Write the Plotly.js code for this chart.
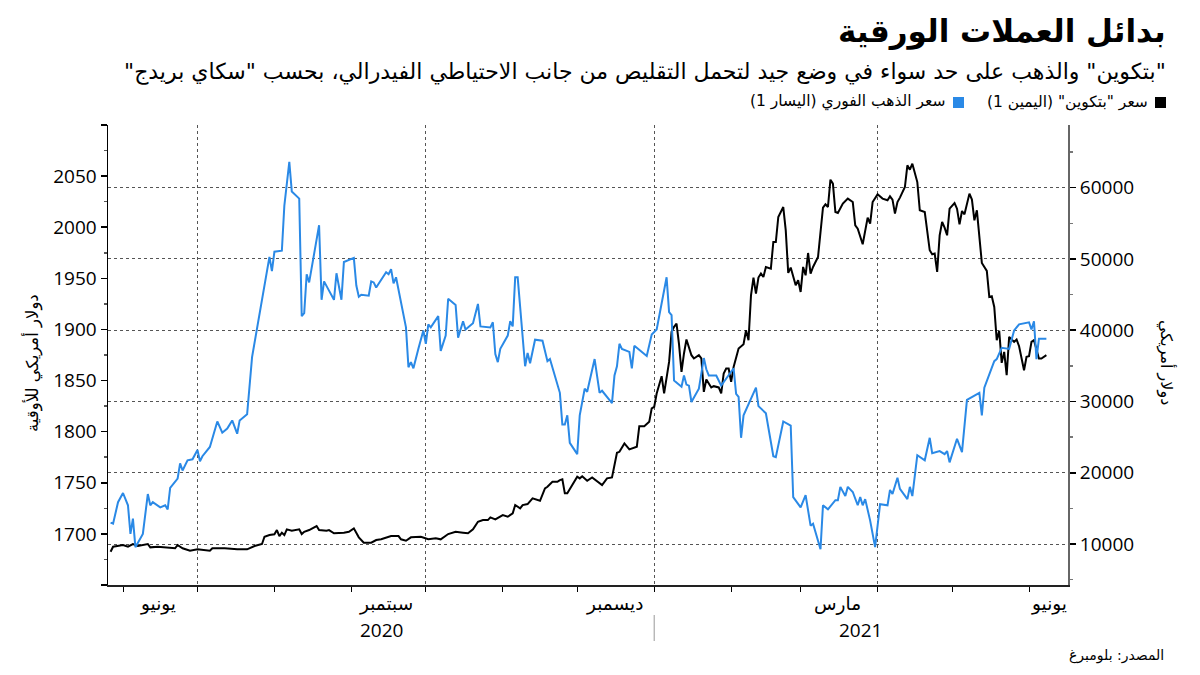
<!DOCTYPE html>
<html>
<head>
<meta charset="utf-8">
<script src="https://cdn.plot.ly/plotly-3.0.1.min.js"></script>
<style>
  html, body { margin: 0; padding: 0; background: #fff; }
  #chart { width: 1200px; height: 675px; }
</style>
</head>
<body>
<div id="chart"></div>
<script>
// ---------------- data ----------------
const seriesNames = ['سعر "بتكوين" (اليمين 1)', 'سعر الذهب الفوري (اليسار 1)'];

const goldDates = ['2020-05-27','2020-05-28','2020-05-30','2020-06-01','2020-06-03','2020-06-04','2020-06-05','2020-06-06','2020-06-09','2020-06-10','2020-06-11','2020-06-12','2020-06-13','2020-06-16','2020-06-18','2020-06-19','2020-06-20','2020-06-23','2020-06-24','2020-06-25','2020-06-27','2020-06-29','2020-07-01','2020-07-02','2020-07-03','2020-07-06','2020-07-09','2020-07-11','2020-07-13','2020-07-15','2020-07-17','2020-07-18','2020-07-21','2020-07-23','2020-07-25','2020-07-27','2020-07-30','2020-07-31','2020-08-01','2020-08-04','2020-08-05','2020-08-07','2020-08-08','2020-08-11','2020-08-12','2020-08-13','2020-08-14','2020-08-15','2020-08-19','2020-08-20','2020-08-21','2020-08-23','2020-08-25','2020-08-26','2020-08-28','2020-08-29','2020-08-31','2020-09-02','2020-09-03','2020-09-04','2020-09-05','2020-09-08','2020-09-09','2020-09-10','2020-09-11','2020-09-15','2020-09-16','2020-09-17','2020-09-18','2020-09-19','2020-09-23','2020-09-24','2020-09-25','2020-09-26','2020-09-28','2020-09-30','2020-10-01','2020-10-02','2020-10-03','2020-10-06','2020-10-07','2020-10-09','2020-10-10','2020-10-13','2020-10-14','2020-10-16','2020-10-17','2020-10-20','2020-10-22','2020-10-23','2020-10-27','2020-10-28','2020-10-29','2020-10-30','2020-10-31','2020-11-03','2020-11-04','2020-11-05','2020-11-06','2020-11-07','2020-11-10','2020-11-11','2020-11-12','2020-11-14','2020-11-17','2020-11-19','2020-11-20','2020-11-24','2020-11-25','2020-11-26','2020-11-27','2020-11-28','2020-12-01','2020-12-02','2020-12-04','2020-12-05','2020-12-08','2020-12-10','2020-12-11','2020-12-15','2020-12-16','2020-12-17','2020-12-18','2020-12-19','2020-12-22','2020-12-23','2020-12-24','2020-12-29','2020-12-31','2021-01-02','2021-01-06','2021-01-07','2021-01-08','2021-01-09','2021-01-12','2021-01-13','2021-01-14','2021-01-15','2021-01-16','2021-01-19','2021-01-21','2021-01-22','2021-01-23','2021-01-26','2021-01-28','2021-01-30','2021-02-02','2021-02-03','2021-02-04','2021-02-05','2021-02-06','2021-02-11','2021-02-12','2021-02-15','2021-02-18','2021-02-19','2021-02-22','2021-02-25','2021-02-26','2021-03-01','2021-03-03','2021-03-05','2021-03-06','2021-03-09','2021-03-10','2021-03-12','2021-03-15','2021-03-16','2021-03-17','2021-03-19','2021-03-20','2021-03-22','2021-03-24','2021-03-25','2021-03-26','2021-03-27','2021-03-29','2021-03-31','2021-04-02','2021-04-05','2021-04-06','2021-04-07','2021-04-09','2021-04-10','2021-04-13','2021-04-14','2021-04-15','2021-04-17','2021-04-20','2021-04-22','2021-04-23','2021-04-26','2021-04-28','2021-04-29','2021-04-30','2021-05-03','2021-05-05','2021-05-07','2021-05-12','2021-05-13','2021-05-14','2021-05-18','2021-05-19','2021-05-21','2021-05-23','2021-05-24','2021-05-26','2021-05-28','2021-06-01','2021-06-02','2021-06-03','2021-06-04','2021-06-05','2021-06-08'];
const goldPrice = [1711,1710,1731,1740,1728,1700,1715,1687,1700,1717,1739,1728,1731,1726,1728,1724,1745,1754,1769,1762,1772,1773,1782,1771,1776,1785,1810,1799,1803,1811,1798,1811,1817,1873,1902,1929,1971,1957,1976,1977,2021,2064,2035,2028,1913,1916,1954,1946,2002,1929,1947,1938,1929,1955,1929,1966,1968,1970,1943,1932,1934,1933,1947,1946,1941,1956,1954,1959,1945,1951,1902,1863,1868,1862,1881,1899,1886,1905,1902,1913,1879,1894,1930,1924,1892,1908,1900,1906,1925,1903,1902,1907,1876,1868,1881,1894,1908,1903,1951,1951,1864,1877,1867,1890,1889,1869,1871,1838,1807,1807,1816,1789,1778,1816,1842,1839,1871,1838,1840,1828,1855,1864,1886,1881,1878,1862,1884,1874,1895,1900,1951,1917,1914,1850,1844,1855,1846,1845,1829,1842,1872,1861,1855,1855,1845,1852,1862,1837,1834,1794,1816,1843,1825,1818,1776,1775,1810,1806,1736,1726,1738,1708,1710,1685,1728,1724,1733,1733,1746,1737,1746,1741,1728,1736,1728,1734,1713,1687,1729,1728,1743,1739,1755,1744,1734,1746,1737,1777,1772,1794,1779,1781,1778,1781,1770,1793,1780,1831,1838,1816,1843,1869,1871,1882,1881,1881,1899,1905,1907,1900,1908,1871,1891,1891];

const btcDates = ['2020-05-27','2020-05-28','2020-06-01','2020-06-03','2020-06-05','2020-06-07','2020-06-11','2020-06-12','2020-06-15','2020-06-20','2020-06-22','2020-06-23','2020-06-25','2020-06-28','2020-07-01','2020-07-06','2020-07-07','2020-07-12','2020-07-17','2020-07-21','2020-07-24','2020-07-27','2020-07-28','2020-07-30','2020-08-01','2020-08-02','2020-08-03','2020-08-04','2020-08-05','2020-08-06','2020-08-08','2020-08-11','2020-08-12','2020-08-13','2020-08-15','2020-08-18','2020-08-19','2020-08-22','2020-08-23','2020-08-25','2020-08-28','2020-08-29','2020-08-31','2020-09-02','2020-09-04','2020-09-06','2020-09-09','2020-09-11','2020-09-13','2020-09-17','2020-09-20','2020-09-21','2020-09-23','2020-09-25','2020-09-29','2020-10-02','2020-10-05','2020-10-07','2020-10-10','2020-10-13','2020-10-16','2020-10-18','2020-10-20','2020-10-22','2020-10-24','2020-10-26','2020-10-27','2020-10-29','2020-11-01','2020-11-03','2020-11-05','2020-11-06','2020-11-08','2020-11-09','2020-11-11','2020-11-13','2020-11-16','2020-11-18','2020-11-19','2020-11-21','2020-11-23','2020-11-24','2020-11-25','2020-11-26','2020-11-27','2020-12-01','2020-12-02','2020-12-03','2020-12-05','2020-12-07','2020-12-11','2020-12-13','2020-12-15','2020-12-17','2020-12-18','2020-12-20','2020-12-22','2020-12-23','2020-12-25','2020-12-26','2020-12-28','2020-12-30','2020-12-31','2021-01-01','2021-01-02','2021-01-04','2021-01-05','2021-01-07','2021-01-08','2021-01-09','2021-01-10','2021-01-11','2021-01-12','2021-01-13','2021-01-14','2021-01-16','2021-01-17','2021-01-19','2021-01-20','2021-01-21','2021-01-22','2021-01-24','2021-01-25','2021-01-27','2021-01-28','2021-01-29','2021-01-30','2021-01-31','2021-02-01','2021-02-02','2021-02-04','2021-02-06','2021-02-07','2021-02-08','2021-02-09','2021-02-10','2021-02-11','2021-02-12','2021-02-13','2021-02-14','2021-02-15','2021-02-17','2021-02-18','2021-02-19','2021-02-20','2021-02-22','2021-02-23','2021-02-24','2021-02-25','2021-02-27','2021-02-28','2021-03-01','2021-03-02','2021-03-03','2021-03-04','2021-03-05','2021-03-06','2021-03-08','2021-03-09','2021-03-10','2021-03-11','2021-03-12','2021-03-13','2021-03-14','2021-03-15','2021-03-16','2021-03-18','2021-03-20','2021-03-22','2021-03-23','2021-03-24','2021-03-26','2021-03-28','2021-03-29','2021-03-30','2021-04-01','2021-04-03','2021-04-05','2021-04-06','2021-04-07','2021-04-08','2021-04-09','2021-04-10','2021-04-12','2021-04-13','2021-04-14','2021-04-15','2021-04-16','2021-04-17','2021-04-18','2021-04-20','2021-04-22','2021-04-23','2021-04-24','2021-04-25','2021-04-26','2021-04-27','2021-04-28','2021-04-29','2021-04-30','2021-05-02','2021-05-03','2021-05-04','2021-05-05','2021-05-06','2021-05-08','2021-05-09','2021-05-10','2021-05-11','2021-05-13','2021-05-15','2021-05-16','2021-05-17','2021-05-18','2021-05-19','2021-05-20','2021-05-21','2021-05-22','2021-05-23','2021-05-24','2021-05-26','2021-05-27','2021-05-28','2021-05-30','2021-05-31','2021-06-01','2021-06-02','2021-06-03','2021-06-05','2021-06-06','2021-06-08'];
const btcPrice = [8920,9620,9860,9620,10000,9720,10000,9530,9620,9400,9400,9860,9400,9060,9250,9060,9400,9400,9250,9250,9720,10000,11020,11260,11360,11960,11120,11580,11260,12060,11860,12060,11400,11720,11960,12520,11960,11860,11960,11500,11500,11580,11720,12200,10940,10180,10180,10560,10660,11120,11120,10660,10460,10940,11020,10660,10800,10660,11400,11720,11580,11500,12060,13130,13360,13360,13740,13460,14070,13830,14300,15470,15010,15470,15610,16410,16070,17810,18030,18730,18730,18970,19070,17110,17110,19440,19210,19500,18870,19350,18270,19210,19350,22800,22940,24120,23280,23420,23640,26540,26540,27150,29030,29250,31130,33550,31130,35560,39770,40470,40940,38040,34160,36740,38700,36500,36040,36500,36040,31350,33090,31970,32150,31970,31130,33930,34630,34630,32750,34860,37440,38040,40000,38600,44910,47390,45150,47390,47950,47480,48880,48650,52380,52380,55890,57290,54020,48040,48790,46310,47010,45370,48880,47710,50840,47950,48880,50280,54020,57200,57670,57290,61130,60570,56590,56450,57770,58470,57990,54720,54260,52060,55800,54960,57990,59070,58470,58230,58790,58330,56360,57990,58610,60100,63140,62530,63370,61970,60790,56830,56590,51220,50660,50760,48180,53320,55190,54400,53320,57060,57850,57060,54860,56730,56270,59170,58330,55420,56830,49440,48320,44670,44770,43270,38600,39910,35420,36960,33690,39060,38360,38700,37760,34390,36260,36360,38360,38600,36040,36040,36500];

const goldTickVals = [1650,1700,1750,1800,1850,1900,1950,2000,2050,2100];
const goldTickText = ['','1700','1750','1800','1850','1900','1950','2000','2050',''];
const btcTickVals = [10000,20000,30000,40000,50000,60000];

const quarterStarts = ['2020-07-01','2020-10-01','2021-01-01','2021-04-01'];
const monthStarts = ['2020-06-01','2020-07-01','2020-08-01','2020-09-01','2020-10-01','2020-11-01','2020-12-01','2021-01-01','2021-02-01','2021-03-01','2021-04-01','2021-05-01','2021-06-01'];
const monthLabels = ['يونيو','سبتمبر','ديسمبر','مارس','يونيو'];
const monthLabelDates = ['2020-06-15','2020-09-15','2020-12-16','2021-03-16','2021-06-09'];
const yearLabels = ['2020','2021'];
const yearLabelDates = ['2020-09-13','2021-03-25'];
const yearBoundary = '2021-01-01';

const titleText = 'بدائل العملات الورقية';
const subtitleText = '"بتكوين" والذهب على حد سواء في وضع جيد لتحمل التقليص من جانب الاحتياطي الفيدرالي، بحسب "سكاي بريدج"';
const leftAxisTitle = 'دولار أمريكي للأوقية';
const rightAxisTitle = 'دولار أمريكي';
const sourceText = 'المصدر: بلومبرغ';

// ---------------- style ----------------
const AR = '"DejaVu Sans", "Noto Sans", sans-serif';
const NUM = '"Open Sans", "DejaVu Sans", sans-serif';
const BLUE = '#2a89e6';
const BLACK = '#000000';

const traces = [
  { x: btcDates, y: btcPrice, type: 'scatter', mode: 'lines', name: seriesNames[0],
    line: { color: BLACK, width: 2 }, yaxis: 'y', showlegend: false, hoverinfo: 'skip' },
  { x: goldDates, y: goldPrice, type: 'scatter', mode: 'lines', name: seriesNames[1],
    line: { color: BLUE, width: 2 }, yaxis: 'y2', showlegend: false, hoverinfo: 'skip' }
];

const L = 108, R = 1068, T = 125, B = 585;
const px = v => (v - L) / (R - L);
const py = v => (B - v) / (B - T);

const annotations = [
  { text: titleText, xref: 'paper', yref: 'paper', x: px(1168), y: py(31), xanchor: 'right', yanchor: 'middle',
    showarrow: false, font: { family: AR, size: 31, color: '#000', weight: 'bold' } },
  { text: subtitleText, xref: 'paper', yref: 'paper', x: px(1168), y: py(72), xanchor: 'right', yanchor: 'middle',
    showarrow: false, font: { family: AR, size: 22, color: '#000' } },
  { text: seriesNames[0], xref: 'paper', yref: 'paper', x: px(1150), y: py(102), xanchor: 'right', yanchor: 'middle',
    showarrow: false, font: { family: AR, size: 15.5, color: '#000' } },
  { text: seriesNames[1], xref: 'paper', yref: 'paper', x: px(948), y: py(102), xanchor: 'right', yanchor: 'middle',
    showarrow: false, font: { family: AR, size: 15.5, color: '#000' } },
  { text: leftAxisTitle, xref: 'paper', yref: 'paper', x: px(32), y: py(363), xanchor: 'center', yanchor: 'middle',
    textangle: -90, showarrow: false, font: { family: AR, size: 16.5, color: '#000' } },
  { text: rightAxisTitle, xref: 'paper', yref: 'paper', x: px(1167), y: py(362), xanchor: 'center', yanchor: 'middle',
    textangle: 90, showarrow: false, font: { family: AR, size: 16, color: '#000' } },
  { text: sourceText, xref: 'paper', yref: 'paper', x: px(1166), y: py(655), xanchor: 'right', yanchor: 'middle',
    showarrow: false, font: { family: AR, size: 14, color: '#000' } }
];
monthLabels.forEach((m, i) => annotations.push({
  text: m, xref: 'x', yref: 'paper', x: monthLabelDates[i], y: py(604), xanchor: 'center', yanchor: 'middle',
  showarrow: false, font: { family: AR, size: 18.5, color: '#000' }
}));
yearLabels.forEach((m, i) => annotations.push({
  text: m, xref: 'x', yref: 'paper', x: yearLabelDates[i], y: py(630), xanchor: 'center', yanchor: 'middle',
  showarrow: false, font: { family: NUM, size: 19, color: '#000' }
}));

const shapes = [
  { type: 'rect', xref: 'paper', yref: 'paper', x0: px(1155), x1: px(1166), y0: py(108), y1: py(97),
    fillcolor: BLACK, line: { width: 0 } },
  { type: 'rect', xref: 'paper', yref: 'paper', x0: px(953), x1: px(964), y0: py(108), y1: py(97),
    fillcolor: BLUE, line: { width: 0 } },
  { type: 'line', xref: 'x', yref: 'paper', x0: yearBoundary, x1: yearBoundary, y0: py(615), y1: py(641),
    line: { color: '#999', width: 1 } }
];

const layout = {
  width: 1200, height: 675,
  margin: { l: L, r: 1200 - R, t: T, b: 675 - B, pad: 0 },
  paper_bgcolor: '#fff', plot_bgcolor: '#fff',
  showlegend: false,
  xaxis: {
    type: 'date', range: ['2020-05-25 23:00', '2021-06-16 17:00'],
    tickmode: 'array', tickvals: quarterStarts, ticktext: quarterStarts.map(() => ''),
    ticks: 'outside', ticklen: 5, tickcolor: '#000', tickwidth: 1,
    showgrid: true, gridcolor: '#555', gridwidth: 1, griddash: '3px,3px',
    minor: { tickmode: 'array', tickvals: monthStarts, ticks: 'outside', ticklen: 5, tickcolor: '#000', showgrid: false },
    showline: true, linecolor: '#222', linewidth: 1.5, zeroline: false,
    fixedrange: true
  },
  yaxis: {
    side: 'right', range: [4250, 68800],
    tickmode: 'array', tickvals: btcTickVals, tickformat: 'd',
    ticks: 'outside', ticklen: 6, tickwidth: 1.5, tickcolor: '#000',
    minor: { dtick: 5000, tick0: 0, ticks: 'outside', ticklen: 3, tickcolor: '#777', showgrid: false },
    showgrid: true, gridcolor: '#555', gridwidth: 1, griddash: '3px,3px',
    showline: true, linecolor: '#666', linewidth: 2, zeroline: false,
    tickfont: { family: NUM, size: 19, color: '#000' },
    fixedrange: true
  },
  yaxis2: {
    overlaying: 'y', side: 'left', range: [1650, 2100],
    tickmode: 'array', tickvals: goldTickVals, ticktext: goldTickText,
    ticks: 'outside', ticklen: 6, tickwidth: 1.5, tickcolor: '#000',
    minor: { dtick: 25, tick0: 1650, ticks: 'outside', ticklen: 3, tickcolor: '#555', showgrid: false },
    showgrid: false, showline: true, linecolor: '#000', linewidth: 1.5, zeroline: false,
    tickfont: { family: NUM, size: 19, color: '#000' },
    fixedrange: true
  },
  annotations: annotations,
  shapes: shapes
};

Plotly.newPlot('chart', traces, layout, { displayModeBar: false, staticPlot: true });
</script>
</body>
</html>
